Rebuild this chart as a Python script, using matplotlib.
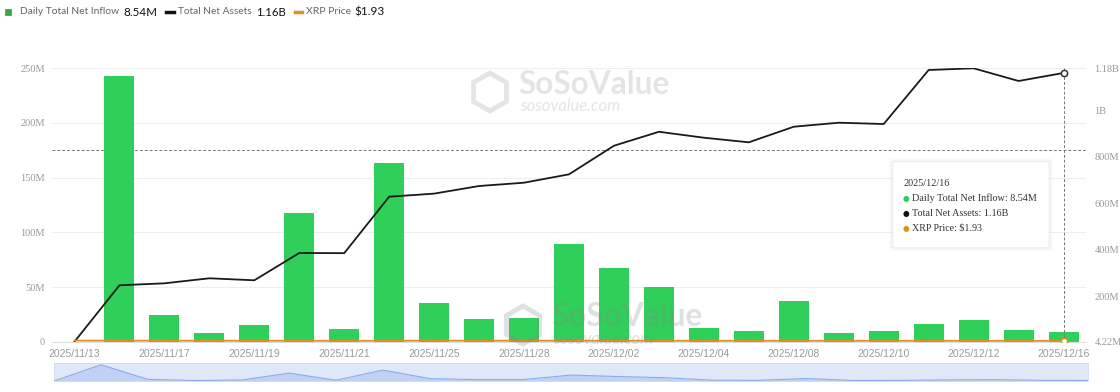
import matplotlib
matplotlib.use("Agg")
import matplotlib.pyplot as plt
from matplotlib.patches import FancyBboxPatch, RegularPolygon, Rectangle
import numpy as np

dates = ["2025/11/13", "2025/11/14", "2025/11/17", "2025/11/18", "2025/11/19", "2025/11/20",
         "2025/11/21", "2025/11/24", "2025/11/25", "2025/11/26", "2025/11/28", "2025/12/01",
         "2025/12/02", "2025/12/03", "2025/12/04", "2025/12/05", "2025/12/08", "2025/12/09",
         "2025/12/10", "2025/12/11", "2025/12/12", "2025/12/15", "2025/12/16"]
# daily total net inflow, millions USD
inflow = [0, 242.7, 24.4, 7.7, 15.0, 118.0, 11.3, 163.7, 35.1, 21.0, 21.9, 89.1,
          67.1, 49.7, 12.2, 9.8, 37.2, 8.0, 9.5, 15.9, 19.6, 10.4, 8.54]
# total net assets, millions USD
net_assets = [4.22, 246.8, 255.3, 276.9, 268.3, 385.7, 385.0, 627.8, 641.0, 673.8, 688.0, 724.0,
              847.0, 907.0, 881.5, 861.7, 928.8, 946.0, 940.4, 1172.7, 1180.0, 1125.4, 1160.0]
# XRP price, USD
xrp_price = [2.41, 2.28, 2.22, 2.15, 2.13, 2.04, 1.96, 2.05, 2.24, 2.20, 2.20, 2.07,
             2.18, 2.05, 2.08, 2.00, 2.06, 2.06, 2.03, 2.00, 1.99, 1.91, 1.93]

left_ticks = [0, 50, 100, 150, 200, 250]
left_labels = ["0", "50M", "100M", "150M", "200M", "250M"]
right_ticks = [4.22, 200, 400, 600, 800, 1000, 1180]
right_labels = ["4.22M", "200M", "400M", "600M", "800M", "1B", "1.18B"]

GREEN = "#30cf5a"
ORANGE = "#e0901e"
GREY = "#999999"
SERIF = "Liberation Serif"

W, H = 1120, 392
fig = plt.figure(figsize=(W / 100, H / 100), dpi=100)
renderer = fig.canvas.get_renderer()

def fx(px):
    return px / W

def fy(py):
    return 1 - py / H

def fit_text(x0, y0, s, width, **kw):
    # put text at pixel x0 and scale its size so it spans the given pixel width
    t = fig.text(fx(x0), fy(y0), s, va="center", ha="left", fontsize=10, **kw)
    w = t.get_window_extent(renderer).width
    t.set_fontsize(10 * width / w)
    return t

x = np.arange(len(dates))

ax = fig.add_axes([fx(52), fy(341.7), fx(1086 - 52), (341.7 - 68.3) / H])
ax.bar(x, inflow, width=0.667, color=GREEN, zorder=2)
ax.set_xlim(-0.5, len(dates) - 0.5)
ax.set_ylim(0, 250)
ax.set_yticks(left_ticks)
ax.set_yticklabels(left_labels, fontfamily=SERIF, fontsize=7.5, color=GREY)
ax.set_xticks(x[::2])
ax.set_xticklabels(dates[::2], fontsize=7.5, color=GREY, fontfamily="Liberation Sans")
ax.tick_params(axis="both", length=0)
ax.tick_params(axis="y", pad=5)
ax.tick_params(axis="x", pad=5)
ax.grid(axis="y", color="#eeeeee", linewidth=0.8, zorder=0)
for s in ["top", "right", "left"]:
    ax.spines[s].set_visible(False)
ax.spines["bottom"].set_color("#dddddd")

# crosshair lines
ax.axhline(175, color="#777777", linestyle=(0, (3, 2)), linewidth=0.7, zorder=1)
ax.axvline(x[-1], color="#777777", linestyle=(0, (3, 2)), linewidth=0.7, zorder=5)

ax2 = ax.twinx()
ax2.plot(x, net_assets, color="#1a1a1a", linewidth=1.3, zorder=3)
ax2.plot(x[-1], net_assets[-1], "o", ms=4.5, mfc="white", mec="#333333", mew=1.1, zorder=6)
ax2.set_ylim(4.22, 1180)
ax2.set_yticks(right_ticks)
ax2.set_yticklabels(right_labels, fontfamily=SERIF, fontsize=7.5, color=GREY)
ax2.tick_params(axis="y", length=0, pad=6)
for s in ax2.spines.values():
    s.set_visible(False)

ax3 = ax.twinx()
ax3.plot(x, xrp_price, color=ORANGE, linewidth=1.3, zorder=3)
ax3.plot(x[-1], xrp_price[-1], "o", ms=4.5, mfc="white", mec=ORANGE, mew=1.1, zorder=6)
ax3.set_ylim(0, 600)
ax3.axis("off")

# watermarks
def watermark(cx, cy, alpha):
    fig.patches.append(RegularPolygon(((cx - 82) / 100, (H - cy) / 100), 6, radius=0.19,
                                      orientation=0, transform=fig.dpi_scale_trans,
                                      facecolor="none", edgecolor="#888888",
                                      linewidth=3.5, alpha=alpha, zorder=10))
    fit_text(cx - 54, cy - 8, "SoSoValue", 152, fontweight="bold", color="#888888",
             alpha=alpha, fontfamily="Lato", zorder=10)
    fit_text(cx - 52, cy + 14, "sosovalue.com", 100, fontstyle="italic", color="#888888",
             alpha=alpha, fontfamily="Lato", zorder=10)

watermark(572, 92, 0.22)
watermark(605, 325, 0.26)

# tooltip
for off, a in [(4, 0.015), (2.5, 0.02), (1.2, 0.03)]:
    fig.patches.append(FancyBboxPatch((fx(893 - off), fy(247.5 + off)), fx(156 + 2 * off),
                                      (85.5 + 2 * off) / H,
                                      boxstyle="round,pad=0,rounding_size=0.004",
                                      transform=fig.transFigure, facecolor="#000000",
                                      edgecolor="none", alpha=a, zorder=11))
fig.patches.append(FancyBboxPatch((fx(893), fy(247.5)), fx(156), 85.5 / H,
                                  boxstyle="round,pad=0,rounding_size=0.004",
                                  transform=fig.transFigure, facecolor="white",
                                  edgecolor="#f2f2f2", linewidth=0.6, zorder=12))
fit_text(904, 183.5, dates[-1], 46, color="#333333", fontfamily=SERIF, zorder=13)
tip = [(GREEN, "Daily Total Net Inflow: 8.54M", 124), ("#111111", "Total Net Assets: 1.16B", 96),
       (ORANGE, "XRP Price: $1.93", 70)]
for i, (c, t, w) in enumerate(tip):
    yy = 198.5 + 14.8 * i
    fig.text(fx(906), fy(yy), "\u25cf", fontsize=5.5, color=c, ha="center", va="center",
             fontfamily="DejaVu Sans", zorder=13)
    fit_text(912, yy, t, w, color="#333333", fontfamily=SERIF, zorder=13)

# legend on top
fig.patches.append(Rectangle((fx(5), fy(15)), fx(6), 6 / H, transform=fig.transFigure,
                             facecolor="#3aa34a", edgecolor="#a07020", linewidth=0.5))
fit_text(20, 12, "Daily Total Net Inflow", 99, color="#666666", fontfamily="Lato")
fit_text(123, 12, "8.54M", 34, color="#111111", fontfamily="Lato")
fig.lines.append(plt.Line2D([fx(166), fx(174)], [fy(12), fy(12)], transform=fig.transFigure,
                            color="#111111", linewidth=2.5))
fit_text(178, 12, "Total Net Assets", 74, color="#666666", fontfamily="Lato")
fit_text(256, 12, "1.16B", 30, color="#111111", fontfamily="Lato")
fig.lines.append(plt.Line2D([fx(295), fx(302)], [fy(12), fy(12)], transform=fig.transFigure,
                            color=ORANGE, linewidth=2.5))
fit_text(306, 12, "XRP Price", 45, color="#666666", fontfamily="Lato")
fit_text(354, 12, "$1.93", 30, color="#111111", fontfamily="Lato")

# navigator / data zoom strip
nav = fig.add_axes([fx(54), fy(381), fx(1088 - 54), 18 / H])
nav.set_facecolor("#dfe8f8")
nav.fill_between(x, inflow, 0, color="#c0d2f3", linewidth=0)
nav.plot(x, inflow, color="#8aabea", linewidth=0.8)
nav.set_xlim(0, len(dates) - 1)
nav.set_ylim(0, 270)
nav.set_xticks([])
nav.set_yticks([])
for s in nav.spines.values():
    s.set_color("#d0dcf0")
    s.set_linewidth(0.6)

fig.savefig("out.png", dpi=100)
